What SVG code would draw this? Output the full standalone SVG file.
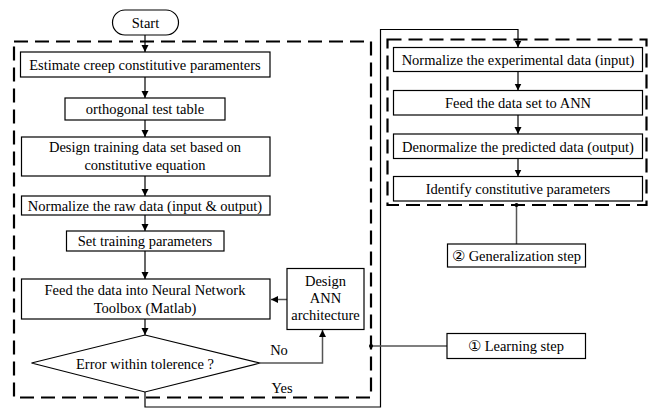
<svg xmlns="http://www.w3.org/2000/svg" width="655" height="410" viewBox="0 0 655 410">
<defs>
<marker id="ah" markerWidth="8" markerHeight="8" refX="7" refY="4" orient="auto" markerUnits="userSpaceOnUse">
<path d="M0,0.5 L7,4 L0,7.5 Z" fill="#000"/>
</marker>
</defs>
<style>
.box{fill:#fff;stroke:#000;stroke-width:1.2}
.t{font-family:"Liberation Serif","Times New Roman",serif;font-size:14.5px;fill:#000;text-anchor:middle}
.c{fill:none;stroke:#000;stroke-width:1.2}
.g{fill:none;stroke:#555;stroke-width:1.5}
.dash{fill:none;stroke:#000;stroke-width:2.2;stroke-dasharray:14,7}
</style>
<rect width="655" height="410" fill="#fff"/>
<g id="groups">
<rect class="dash" x="14" y="41.5" width="357" height="356"/>
<rect class="dash" x="387.5" y="39.5" width="259" height="165.5"/>
</g>
<g id="connectors">
<line class="c" x1="145" y1="35" x2="145" y2="52" marker-end="url(#ah)"/>
<line class="c" x1="145" y1="77" x2="145" y2="98" marker-end="url(#ah)"/>
<line class="c" x1="145" y1="120" x2="145" y2="137" marker-end="url(#ah)"/>
<line class="c" x1="145" y1="176" x2="145" y2="196" marker-end="url(#ah)"/>
<line class="c" x1="145" y1="215" x2="145" y2="231" marker-end="url(#ah)"/>
<line class="c" x1="145" y1="251" x2="145" y2="279" marker-end="url(#ah)"/>
<line class="c" x1="145" y1="319" x2="145" y2="335" marker-end="url(#ah)"/>
<polyline class="g" points="260,363 322.5,363 322.5,330" marker-end="url(#ah)"/>
<line class="g" x1="287" y1="299.5" x2="271" y2="299.5" marker-end="url(#ah)"/>
<polyline class="c" points="145,392 145,407 380.5,407 380.5,29.5 518,29.5 518,47.5" marker-end="url(#ah)"/>
<line class="c" x1="518" y1="71.5" x2="518" y2="90.5" marker-end="url(#ah)"/>
<line class="c" x1="518" y1="115" x2="518" y2="134" marker-end="url(#ah)"/>
<line class="c" x1="518" y1="158.5" x2="518" y2="176.5" marker-end="url(#ah)"/>
<line class="g" x1="516.5" y1="205" x2="516.5" y2="244"/>
<circle cx="516.5" cy="205" r="2" fill="#000"/>
<line class="g" x1="371" y1="346" x2="447" y2="346"/>
<circle cx="371" cy="346" r="2" fill="#000"/>
<text class="t" x="279" y="355">No</text>
<text class="t" x="282" y="393">Yes</text>
</g>
<g id="start">
<rect class="box" x="112.5" y="10" width="66" height="25" rx="12.5"/>
<text class="t" x="145.5" y="27.5">Start</text>
</g>
<g id="n1">
<rect class="box" x="20.5" y="52" width="249.5" height="25"/>
<text class="t" x="145" y="70">Estimate creep constitutive paramenters</text>
</g>
<g id="n2">
<rect class="box" x="65" y="98" width="160" height="22"/>
<text class="t" x="145" y="113.5">orthogonal test table</text>
</g>
<g id="n3">
<rect class="box" x="21.5" y="137" width="248.5" height="39"/>
<text class="t" x="145" y="152">Design training data set based on</text>
<text class="t" x="145" y="170">constitutive equation</text>
</g>
<g id="n4">
<rect class="box" x="21.5" y="196" width="248.5" height="19"/>
<text class="t" x="145" y="210.5">Normalize the raw data (input &amp; output)</text>
</g>
<g id="n5">
<rect class="box" x="66.5" y="231" width="157.5" height="20"/>
<text class="t" x="145" y="245.5">Set training parameters</text>
</g>
<g id="n6">
<rect class="box" x="21.5" y="279" width="248.5" height="40"/>
<text class="t" x="145" y="294.5">Feed the data into Neural Network</text>
<text class="t" x="145" y="313">Toolbox (Matlab)</text>
</g>
<g id="decision">
<polygon class="box" points="145,335 260,363 145,392 31.5,363"/>
<text class="t" x="145" y="369">Error within tolerence ?</text>
</g>
<g id="design">
<rect class="box" x="287" y="268.5" width="77" height="61"/>
<text class="t" x="325.5" y="286">Design</text>
<text class="t" x="325.5" y="303">ANN</text>
<text class="t" x="325.5" y="320">architecture</text>
</g>
<g id="r1">
<rect class="box" x="393.5" y="47.5" width="249" height="24"/>
<text class="t" x="518" y="64.5">Normalize the experimental data (input)</text>
</g>
<g id="r2">
<rect class="box" x="393.5" y="90.5" width="249" height="24.5"/>
<text class="t" x="518" y="108">Feed the data set to ANN</text>
</g>
<g id="r3">
<rect class="box" x="393.5" y="134" width="249" height="24.5"/>
<text class="t" x="518" y="151.5">Denormalize the predicted data (output)</text>
</g>
<g id="r4">
<rect class="box" x="393.5" y="176.5" width="249" height="24.5"/>
<text class="t" x="518" y="194">Identify constitutive parameters</text>
</g>
<g id="gen">
<rect class="box" x="447.5" y="244" width="138" height="23"/>
<text class="t" x="516.5" y="261">② Generalization step</text>
</g>
<g id="learn">
<rect class="box" x="447" y="333.5" width="138.5" height="25"/>
<text class="t" x="516" y="351">① Learning step</text>
</g>
</svg>
